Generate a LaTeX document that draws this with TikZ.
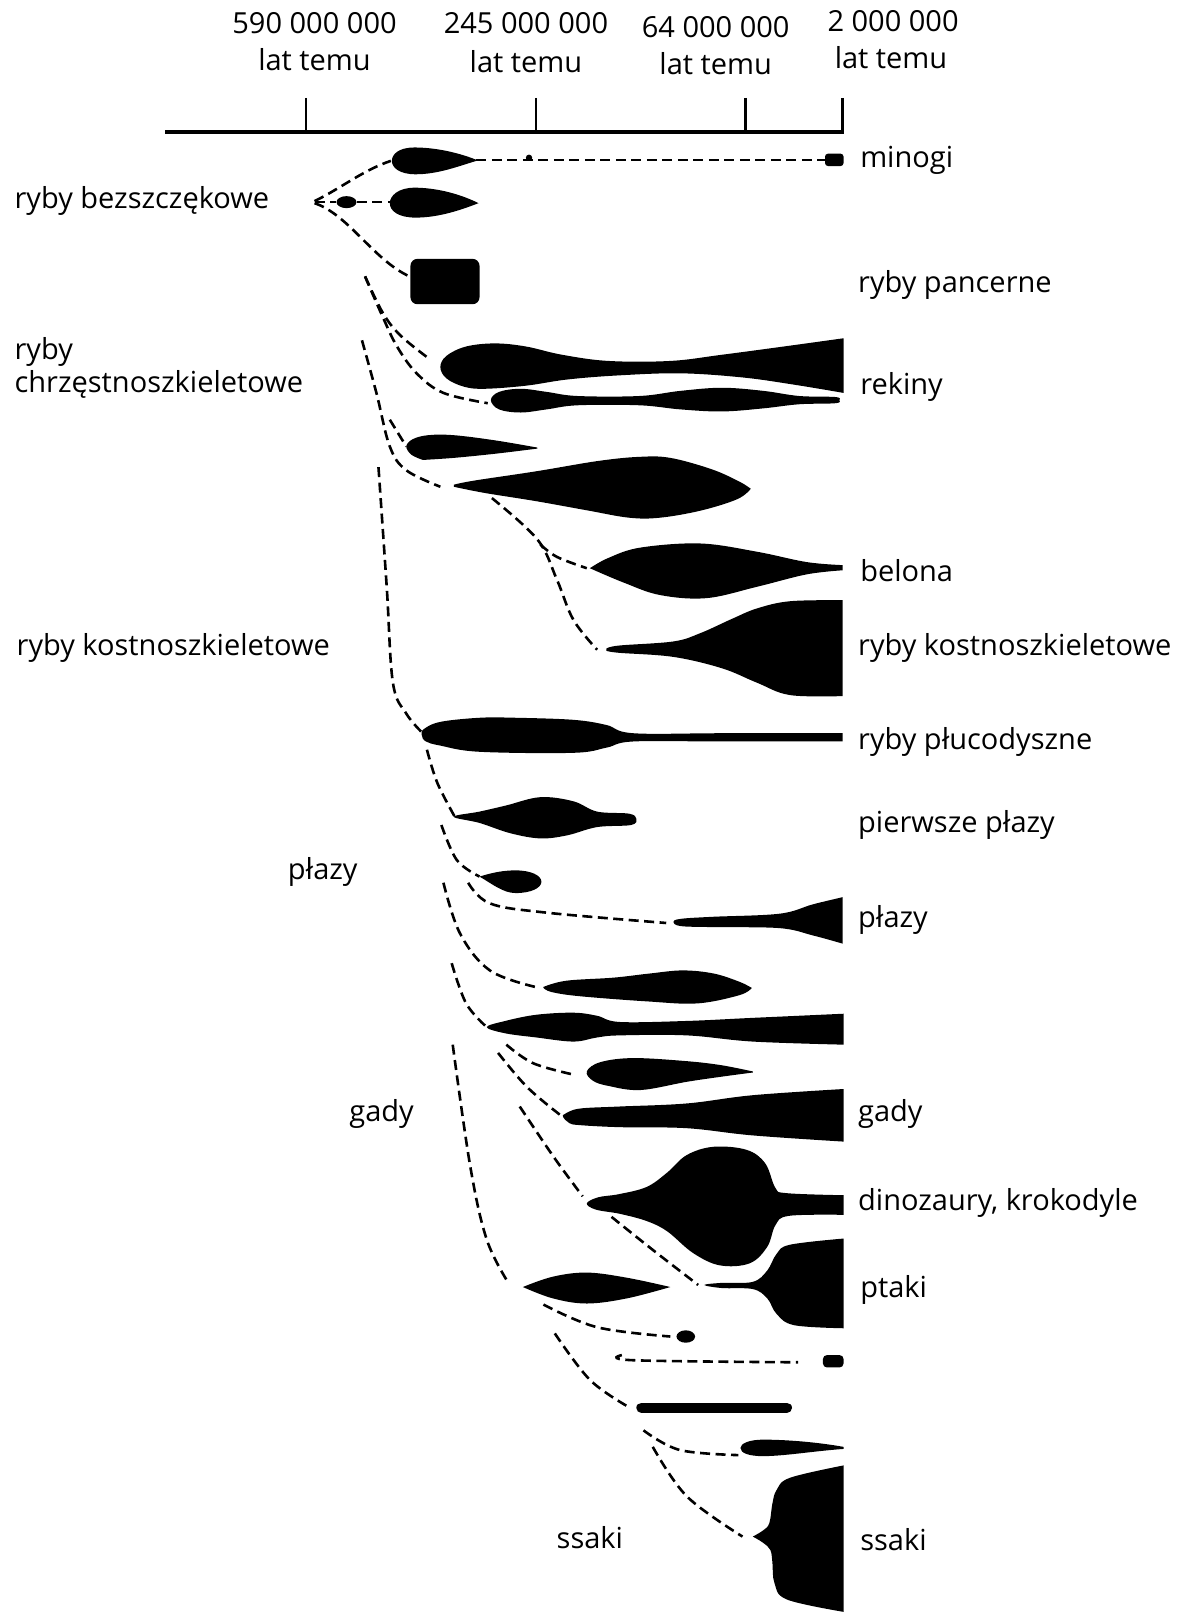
\documentclass[tikz,border=0pt]{standalone}
\usepackage{fontspec}
\setmainfont{Open Sans}
\begin{document}
\begin{tikzpicture}[x=1.03133pt, y=-1.03133pt,
  taxon/.style={fill=black},
  lineage/.style={line width=2.6pt, dash pattern=on 10pt off 5.5pt},
  axisline/.style={line width=3.2pt},
  tickline/.style={line width=2.3pt},
  lbl/.style={inner sep=0pt, yshift=-8pt, font=\fontsize{29pt}{34pt}\selectfont},
  every plot/.style={smooth, tension=0.6}]
\useasboundingbox (0,0) rectangle (1149,1568);

% ---- time axis ----
\draw[axisline] (160,128) -- (818,128);
\foreach \xx in {297,520,723,817} \draw[tickline] (\xx,95) -- (\xx,128);
\node[lbl, anchor=mid] (t1a) at (305,22) {590 000 000};
\node[lbl, anchor=mid] (t1b) at (305,58) {lat temu};
\node[lbl, anchor=mid] (t2a) at (510,22) {245 000 000};
\node[lbl, anchor=mid] (t2b) at (510,60) {lat temu};
\node[lbl, anchor=mid] (t3a) at (694,26) {64 000 000};
\node[lbl, anchor=mid] (t3b) at (694,62) {lat temu};
\node[lbl, anchor=mid] (t4a) at (866,20) {2 000 000};
\node[lbl, anchor=mid] (t4b) at (864,56) {lat temu};

% ---- group names on the left ----
\node[lbl, anchor=mid west] (g1) at (14,192) {ryby bezszczękowe};
\node[lbl, anchor=mid west] (g2a) at (14,338) {ryby};
\node[lbl, anchor=mid west] (g2b) at (14,370) {chrzęstnoszkieletowe};
\node[lbl, anchor=mid west] (g3) at (16,625) {ryby kostnoszkieletowe};
\node[lbl, anchor=mid] (g4) at (313,842) {płazy};
\node[lbl, anchor=mid] (g5) at (370,1077) {gady};
\node[lbl, anchor=mid] (g6) at (572,1491) {ssaki};

% ---- names on the right ----
\node[lbl, anchor=mid west] (r1) at (834,152) {minogi};
\node[lbl, anchor=mid west] (r2) at (832,273) {ryby pancerne};
\node[lbl, anchor=mid west] (r3) at (834,372) {rekiny};
\node[lbl, anchor=mid west] (r4) at (834,554) {belona};
\node[lbl, anchor=mid west] (r5) at (832,625) {ryby kostnoszkieletowe};
\node[lbl, anchor=mid west] (r6) at (832,716) {ryby płucodyszne};
\node[lbl, anchor=mid west] (r7) at (832,797) {pierwsze płazy};
\node[lbl, anchor=mid west] (r8) at (832,889) {płazy};
\node[lbl, anchor=mid west] (r9) at (832,1077) {gady};
\node[lbl, anchor=mid west] (r10) at (832,1163) {dinozaury, krokodyle};
\node[lbl, anchor=mid west] (r11) at (834,1248) {ptaki};
\node[lbl, anchor=mid west] (r12) at (834,1493) {ssaki};

% ---- jawless fishes ----
\fill[taxon] (462,155) .. controls (442,147) and (420,143) .. (402,143)
  .. controls (386,143) and (380,150) .. (380,156)
  .. controls (380,163) and (388,169) .. (403,169)
  .. controls (425,169) and (445,161) .. (462,156) -- cycle;
\fill[taxon] (464,197) .. controls (444,187) and (421,182) .. (402,182)
  .. controls (386,182) and (378,190) .. (378,197)
  .. controls (378,205) and (387,211) .. (403,211)
  .. controls (425,211) and (446,204) .. (464,197) -- cycle;
\fill[taxon] (336,196) ellipse [x radius=10pt, y radius=6pt];
\fill[taxon] (513,153) circle [radius=3.2pt];
\fill[taxon, rounded corners=3pt] (800,149) rectangle (818,161);
\draw[lineage] (462,155) -- (800,155);
\draw[lineage] (305,195) .. controls (330,183) and (352,165) .. (379,156);
\draw[lineage] (305,196) -- (326,196);
\draw[lineage] (346,196) -- (378,196);
\draw[lineage] (305,197) .. controls (338,208) and (362,252) .. (397,268);

% armoured fishes
\fill[taxon, rounded corners=7pt] (398,251) rectangle (465,295);

% ---- sharks ----
\draw[lineage] plot coordinates {(354,268) (371,303) (388,325) (415,347)};
\draw[lineage] plot coordinates {(354,268) (371,307) (385,336) (404,362) (430,381) (473,391)};
\fill[taxon] plot coordinates {(818,328) (760,336) (700,344) (650,350) (590,350) (545,344) (510,336) (480,333) (452,336) (433,345) (427,356) (433,367) (450,375) (470,377) (510,374) (550,368) (600,364) (660,362) (720,366) (770,373) (818,381)} -- cycle;
\fill[taxon] plot[smooth cycle] coordinates {(476,388) (484,380) (505,377) (530,380) (560,384) (620,384) (660,379) (700,376) (740,379) (775,384) (810,385) (814,388) (810,391) (775,392) (740,396) (700,399) (660,397) (620,393) (560,393) (530,397) (505,400) (484,397)};

% ---- bony fishes ----
\draw[lineage] plot coordinates {(351,330) (365,381) (378,433) (394,456) (427,472)};
\draw[lineage] (378,407) -- (394,433);
\fill[taxon] plot coordinates {(521,434) (480,427) (440,422) (415,422) (400,426) (394,433) (399,441) (410,446)}
  -- plot coordinates {(410,446) (440,444) (480,440) (521,435)} -- cycle;
\fill[taxon] plot coordinates {(440,470) (460,466) (520,457) (580,447) (620,443) (650,444) (690,455) (717,467) (728,474)}
  -- plot coordinates {(728,474) (715,484) (680,495) (640,502) (610,502) (570,495) (520,486) (470,478) (440,472)} -- cycle;
\draw[lineage] plot coordinates {(477,483) (521,523) (540,562) (556,601) (579,630)};
\draw[lineage] plot coordinates {(524,528) (540,540) (569,551)};
\fill[taxon] plot coordinates {(572,551) (590,541) (621,531) (679,527) (734,535) (782,545) (817,548)}
  -- (817,553) -- plot coordinates {(817,553) (782,557) (734,569) (685,580) (640,577) (605,565) (572,551)} -- cycle;
\fill[taxon] plot coordinates {(588,629) (600,626) (653,622) (679,614) (710,600) (734,590) (766,583) (817,582)}
  -- (817,675) -- plot coordinates {(817,675) (766,674) (734,662) (700,648) (653,637) (600,633) (588,631)} -- cycle;

% lungfishes
\draw[lineage] plot coordinates {(367,453) (375,569) (381,662) (394,692) (409,710)};
\fill[taxon] plot coordinates {(817,711) (700,711) (614,711) (588,703) (556,698) (500,696) (465,696) (427,700) (411,707) (409,713) (413,719) (427,723) (465,729) (556,730) (588,725) (614,719) (700,719) (817,719)} -- cycle;

% ---- amphibians ----
\draw[lineage] plot coordinates {(414,727) (424,759) (441,792)};
\fill[taxon] plot[smooth cycle] coordinates {(440,792) (465,787) (491,781) (524,773) (556,777) (579,787) (610,789) (617,794) (612,800) (579,802) (550,810) (524,813) (495,808) (465,798)};
\draw[lineage] plot coordinates {(428,800) (443,834) (465,850)};
\fill[taxon] (465,850) .. controls (478,846) and (488,844) .. (500,844)
  .. controls (515,844) and (525,849) .. (525,855)
  .. controls (525,861) and (515,866) .. (500,866)
  .. controls (488,866) and (477,857) .. (465,850) -- cycle;
\draw[lineage] plot coordinates {(454,856) (475,876) (530,885) (646,895)};
\fill[taxon] plot coordinates {(817,870) (788,877) (756,886) (691,889) (660,891) (653,894) (660,898) (691,899) (756,900) (788,907) (817,915)} -- cycle;

% ---- reptiles ----
\draw[lineage] plot coordinates {(430,856) (446,905) (475,941) (519,957)};
\fill[taxon] plot coordinates {(527,957) (549,951) (595,948) (630,944) (662,941) (692,944) (717,952) (729,958)}
  -- plot coordinates {(729,958) (717,965) (676,973) (627,971) (562,966) (535,962) (527,958)} -- cycle;
\draw[lineage] plot coordinates {(438,934) (452,973) (472,996)};
\fill[taxon] plot coordinates {(818,983) (730,987) (666,990) (601,991) (579,985) (556,982) (520,984) (490,990) (472,996) (490,1002) (520,1006) (556,1010) (579,1006) (601,1004) (666,1004) (730,1010) (818,1013)} -- cycle;
\draw[lineage] plot coordinates {(491,1013) (517,1031) (556,1042)};
\fill[taxon] plot coordinates {(730,1039) (700,1033) (666,1029) (614,1026) (582,1030) (569,1039) (575,1048) (590,1053) (621,1057) (666,1049) (700,1044) (730,1040)} -- cycle;
\draw[lineage] plot coordinates {(483,1021) (511,1054) (543,1081)};
\fill[taxon] plot coordinates {(818,1056) (730,1062) (666,1070) (600,1073) (562,1075) (548,1080) (546,1083) (552,1089) (562,1091) (601,1093) (666,1094) (730,1101) (818,1107)} -- cycle;

% dinosaurs and crocodiles
\draw[lineage] plot coordinates {(504,1073) (537,1122) (565,1160)};
\fill[taxon] plot coordinates {(818,1159) (763,1157) (752,1152) (742,1128) (724,1115) (692,1112) (666,1120) (647,1137) (627,1151) (600,1158) (580,1161) (569,1167) (578,1173) (601,1177) (627,1184) (647,1194) (672,1215) (698,1227) (727,1225) (744,1209) (752,1188) (765,1179) (818,1178)} -- cycle;

% birds
\draw[lineage] plot coordinates {(593,1180) (633,1212) (677,1246)};
\fill[taxon] plot coordinates {(818,1201) (766,1207) (753,1216) (744,1232) (730,1243) (700,1244) (683,1246) (700,1249) (730,1250) (744,1259) (753,1274) (770,1285) (818,1288)} -- cycle;

% ---- mammal-like reptiles and mammals ----
\draw[lineage] plot coordinates {(439,1013) (456,1131) (472,1202) (493,1244)};
\fill[taxon] plot coordinates {(507,1248) (536,1238) (569,1234) (608,1239) (650,1248)}
  -- plot coordinates {(650,1248) (608,1259) (569,1264) (536,1259) (507,1248)} -- cycle;
\draw[lineage] plot coordinates {(527,1265) (579,1287) (650,1296)};
\fill[taxon] (665,1296) ellipse [x radius=9.3pt, y radius=6.2pt];
\draw[lineage] plot coordinates {(538,1293) (572,1338) (609,1364)};
\draw[lineage] plot coordinates {(603,1314) (614,1319) (774,1321)};
\fill[taxon, rounded corners=4pt] (798,1314) rectangle (818,1326);
\draw[line width=10.3pt, line cap=round] (622,1365) -- (763,1365);
\draw[lineage] plot coordinates {(624,1387) (659,1406) (716,1411)};
\fill[taxon] (818,1403) .. controls (790,1398) and (760,1396) .. (740,1396)
  .. controls (726,1396) and (718,1400) .. (718,1404)
  .. controls (718,1409) and (726,1412) .. (740,1412)
  .. controls (760,1412) and (790,1407) .. (818,1405) -- cycle;
\draw[lineage] plot coordinates {(633,1403) (666,1451) (720,1490)};
\fill[taxon] plot coordinates {(818,1421) (766,1433) (753,1445) (749,1458) (746,1477) (740,1484) (730,1490)}
  -- plot coordinates {(730,1490) (740,1496) (747,1503) (749,1515) (751,1535) (763,1551) (818,1563)} -- cycle;
\end{tikzpicture}
\end{document}
